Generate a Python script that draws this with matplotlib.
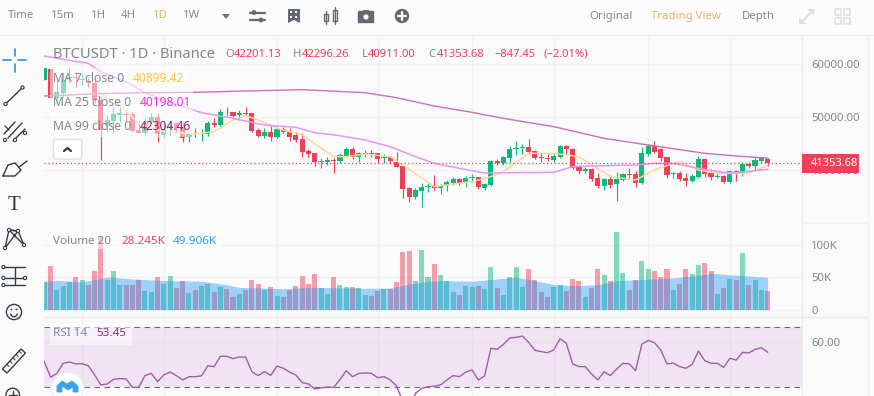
import matplotlib
matplotlib.use("Agg")
import matplotlib.pyplot as plt
from matplotlib.patches import Rectangle, Circle, FancyBboxPatch, Polygon

plt.rcParams['font.family'] = ['Noto Sans', 'DejaVu Sans']

# ---------- data ----------
opens = [57040,59120,53590,54530,57360,57670,56980,56860,56420,53270,48550,49370,50500,50630,50630,47610,46980,49180,50000,46670,
         48110,48870,47930,46230,47300,46860,46860,48990,48550,51070,50940,50440,50760,50760,47610,46480,47170,46230,47740,47420,
         46600,45850,43650,43210,41640,41640,41890,41830,42700,44030,42580,43080,43270,43210,42390,42450,41640,40820,36610,34910,
         36160,36860,37050,36610,37050,37610,38370,37860,38620,38740,36610,37230,41760,41450,42390,44090,44150,44400,43650,42450,
         42330,41950,42580,44530,44030,40690,39940,40190,38560,37110,38300,37360,38180,39370,39250,37680,43080,44650,43960,42450,
         39250,39500,38560,38050,38810,42080,39440,38810,38930,37860,39810,39310,41260,40880,41830,42201]
highs = [59370,59120,57040,58620,59250,58620,58300,57670,57040,53900,50440,51700,52010,51380,51070,49500,49810,50760,50760,49500,
         49500,49180,49180,47300,47930,47740,49370,49810,51510,52010,51070,51380,52010,50880,47930,47930,48550,48240,48240,47930,
         47300,47110,43960,43330,42260,42450,42260,43210,44470,44470,43520,43840,43840,43330,43080,42700,43520,41200,36920,36610,
         37550,37550,39120,37420,38180,38800,38620,38930,39310,38810,37680,41950,42080,42700,44660,45540,44910,45850,43840,43210,
         43080,43080,44840,44720,44150,41010,40570,40380,39560,38620,39120,39750,39560,40380,39940,44340,44970,45540,44150,42580,
         39750,39880,39440,39310,42700,42260,40310,39750,39120,40060,40060,41640,41640,42450,42580,42296]
lows = [57040,53710,52640,53900,56420,55790,56100,55790,52640,41950,47300,46980,49180,49180,47300,46980,46670,48870,45410,46350,
        46480,47300,45410,45410,46350,45600,46480,48110,47930,50250,50130,49500,50440,47300,46230,46040,45600,46040,46980,45600,
        45410,42580,42450,40820,40500,41010,39560,41320,42450,42080,41640,42450,42450,41320,41320,41200,40570,34720,34090,34590,
        33020,35850,36290,35540,36160,37230,37230,36790,37860,36420,36290,37050,41010,41010,41640,42890,43080,43080,42080,41640,
        41760,41510,42390,43080,40250,39310,39440,38050,36610,36290,36610,34280,37990,38490,36920,37420,42700,43210,41830,38620,
        38490,38050,37110,37800,38490,38680,38180,38490,37610,37550,38050,38930,40500,39940,41320,40911]
closes = [59370,53710,54840,57040,57670,57360,57170,56420,53270,47610,49500,50630,50760,50440,47480,47110,48870,50130,46790,47740,
          48370,47930,46160,46860,47170,47110,48870,48550,50940,50940,50250,50760,50630,47480,46480,47170,46230,47740,47300,46350,
          45720,43520,43080,41640,41830,41890,41700,42890,44030,42450,43210,43210,43140,42140,42580,41700,40690,36540,35030,36290,
          36790,37050,36610,37110,37800,38370,37680,38490,38810,36920,37420,41760,41450,42450,44030,44280,44340,43400,42390,42260,
          42140,42700,44590,44090,40500,39880,40190,38370,37110,38300,37300,38300,39250,39180,37680,43210,44590,43520,42390,39180,
          39500,38300,38050,38930,42140,39310,38810,39000,37860,39810,39310,41200,40880,41890,42260,41354]

ma7_idx = [9,12,15,19,24,27,30,32,34,37,41,46,48,51,55,57,62,68,71,73,77,81,85,90,94,97,100,101,104,107,112,115]
ma7_val = [54530,52330,48870,47300,46860,47300,49500,50320,49500,47930,46670,42580,42580,43080,42580,41010,36920,37860,38810,39750,
           43210,43210,42580,38810,38180,40060,41320,41640,40060,39440,39440,40899]
ma25_idx = [0,3,7,9,13,16,19,25,30,35,40,43,47,51,55,59,62,66,70,81,84,89,94,97,100,104,108,110,115]
ma25_val = [61570,60940,60190,58620,56730,54650,53270,50880,49810,48550,48110,47110,46540,45720,44470,42580,41320,40380,39500,39620,
            40690,40880,41010,41320,41320,40380,39620,39560,40198]
ma99_idx = [0,4,8,16,24,30,41,51,56,62,68,73,81,89,96,105,110,115]
ma99_val = [54030,54210,54470,54650,54720,54910,55220,54650,53710,52140,50940,49810,48240,46040,44780,43210,42710,42304]

volumes = [42.7,66.7,30.7,37,42.2,50,46.4,38.5,58.9,114,46.4,58.9,38.5,38.5,38.5,45.3,29.2,27.6,51,40.1,
           52.6,32.8,43.8,26,30.7,37,39,27.6,35.4,32.3,19.8,24.5,29.7,46.4,40.1,30.7,35.4,21.4,19.8,29.7,
           37,52.6,40.1,55.7,33.9,24.5,51,38.5,35.4,35.4,33.9,22.9,21.4,29.2,31.8,32.3,43.2,88.5,90.1,44.8,
           91.7,50,69.8,54.2,43.8,27.6,22.9,37,35.4,37,32.3,65.1,33.9,22.9,51,65.1,35.4,62,46.4,27.6,
           19.8,35.4,38.5,29.2,47.9,44.8,19.8,33.9,62,54.2,44.8,119.8,57.3,30.7,46.4,74.5,62,58.9,51,62,
           30.7,40.1,63.5,55.7,68.2,71.4,58.9,24.5,33.9,47.9,46.4,87,38.5,46.4,30.7,28.2]
vol_ma_idx = [0,2,6,8,10,14,19,25,29,31,38,43,51,55,58,61,63,68,71,75,78,81,85,88,91,95,100,105,106,110,115]
vol_ma_val = [43.8,45.3,42.7,46.4,50.5,47.4,44.8,43.8,38.5,34.4,32.3,34.4,32.8,33.3,39.6,43.8,44.8,43.8,46.4,50,44.8,38.5,37,38.5,44.8,46.4,49,54.2,56.3,53.1,49.9]

rsi = [47.1,36.7,39.3,46,46.9,45.6,45.8,44.4,38.2,31.6,32.2,35.3,35.8,35.6,30,30,37.8,39.3,33.8,38.2,
       40.2,37.8,34.9,37.1,37.1,37.6,44.4,43.8,50.7,50.7,49.1,50.2,50.2,40.4,37.8,40.4,38,44.2,42.7,40.2,
       38.2,33.1,32.2,28.9,29.6,30.2,30,35.1,41.1,37.1,39.3,39.6,39.3,36.4,37.1,34.9,30.9,20.4,13.8,26,
       29.3,30.4,30.7,31.6,34.9,37.8,37.1,40.2,41.6,34.9,37.6,56,55.3,58.7,62.9,63.3,64.2,60,54.7,53.8,
       53.1,54.9,62.4,59.3,45.6,43.8,43.8,38.9,34.9,40.4,37.8,42.2,46,45.6,41.1,58.7,61.3,59.8,54.9,45.6,
       46.2,43.8,42.7,45.3,54.2,47.8,46,46,43.3,49.3,48.2,53.3,52.9,55.3,56.4,53.45]

grid_idx = [6,19,37,53,68,81,96,109]
price_ticks = [40000,50000,60000]
price_tick_labels = ['40000.00','50000.00','60000.00']
vol_ticks = [0,50,100]
vol_tick_labels = ['0','50K','100K']
rsi_ticks = [60]
rsi_tick_labels = ['60.00']
last_price = 41353.68
rsi_upper, rsi_lower = 70, 30
periods = ['Time','15m','1H','4H','1D','1W']

# ---------- styles ----------
W, H = 874, 396
BG = '#fafafa'; GRID = '#f1f1f4'; SEP = '#ececef'; TXT = '#7f8794'
GREEN = '#0fb97c'; RED = '#ef4059'; GOLD = '#d9b466'

fig = plt.figure(figsize=(W/100, H/100), dpi=100, facecolor=BG)

def pane(top, bottom, left=44.3, right=802):
    return fig.add_axes([left/W, 1-bottom/H, (right-left)/W, (bottom-top)/H], facecolor=BG)

XLIM = (0, (802-44.3)/6.29)

def style(ax, ticks, labels, ylim):
    ax.set_xlim(*XLIM); ax.set_ylim(*ylim)
    ax.set_xticks(grid_idx); ax.set_xticklabels([])
    ax.set_yticks(ticks); ax.set_yticklabels(labels)
    ax.yaxis.tick_right()
    ax.tick_params(length=0, labelsize=8.2, labelcolor=TXT, pad=6.5)
    ax.grid(True, color=GRID, lw=0.9); ax.set_axisbelow(True)
    for s in ('top','left','bottom'):
        ax.spines[s].set_visible(False)
    ax.spines['right'].set_color(SEP)

n = len(closes)
xs = list(range(n))

# price pane
ax = pane(36, 223)
style(ax, price_ticks, price_tick_labels, (30065, 65346))
cols = [GREEN if c >= o else RED for o, c in zip(opens, closes)]
ax.vlines(xs, lows, highs, colors=cols, lw=0.8, zorder=3)
ax.bar(xs, [max(abs(c-o), 110) for o, c in zip(opens, closes)], bottom=[min(o, c) for o, c in zip(opens, closes)],
       width=0.82, color=cols, lw=0, zorder=3)
ax.plot(ma7_idx, ma7_val, color='#f8d999', lw=1.1, zorder=4)
ax.plot(ma25_idx, ma25_val, color='#e796f2', lw=1.1, zorder=4)
ax.plot(ma99_idx, ma99_val, color='#d070b4', lw=1.0, zorder=4)
ax.axhline(last_price, color=RED, lw=0.9, ls=(0, (1, 2)), zorder=5)

# volume pane
av = pane(223, 317)
style(av, vol_ticks, vol_tick_labels, (-11.5, 133.9))
av.bar(xs, volumes, width=0.8, color=cols, alpha=0.5, lw=0, zorder=3)
av.fill_between(vol_ma_idx, vol_ma_val, 0, color='#2196f3', alpha=0.42, lw=0, zorder=4)

# RSI pane
ar = pane(317, 396)
style(ar, rsi_ticks, rsi_tick_labels, (24.2, 76.9))
ar.axhspan(rsi_lower, rsi_upper, color='#9c27b0', alpha=0.1, lw=0, zorder=1)
for lv in (rsi_upper, rsi_lower):
    ar.axhline(lv, color='#6b6b78', lw=0.8, ls=(0, (5, 4)), zorder=2)
ar.plot(xs, rsi, color='#a35cab', lw=1.0, zorder=4)

# overlay in pixel space for the interface furniture
o = fig.add_axes([0, 0, 1, 1], facecolor='none')
o.set_xlim(0, W); o.set_ylim(H, 0); o.axis('off')

def T(x, y, s, c=TXT, fs=8.6, ha='left', **kw):
    o.text(x, y, s, color=c, fontsize=fs, ha=ha, va='center', **kw)

def L(xs_, ys_, c='#333a45', lw=1.0, **kw):
    o.plot(xs_, ys_, color=c, lw=lw, solid_capstyle='round', **kw)

def ring(x, y, r=1.6, c='#333a45', fc='white', lw=0.8):
    o.add_patch(Circle((x, y), r, fc=fc, ec=c, lw=lw, zorder=6))

# top bar
o.add_patch(Rectangle((0, 0), W, 35, fc='#fcfcfc', ec='none'))
L([0, W], [35, 35], c=SEP, lw=1)
L([868, 868], [35, H], c='#f2f2f4', lw=1)
L([802, 868], [223, 223], c=GRID, lw=1); L([44, 868], [317, 317], c=SEP, lw=1)
for x, s in zip([8, 51, 91, 121, 153, 183], periods):
    T(x, 16, s, c=GOLD if s == '1D' else TXT, fs=8.2)
o.add_patch(Polygon([[222, 14], [230, 14], [226, 19]], fc='#6d7480', ec='none'))
IC = '#616975'
L([250, 265], [12.5, 12.5], c=IC, lw=1.6); L([250, 265], [20, 20], c=IC, lw=1.6)
o.add_patch(Circle((254, 12.5), 2.4, fc=IC)); o.add_patch(Circle((261, 20), 2.4, fc=IC))
o.add_patch(Polygon([[288, 9], [300, 9], [300, 23], [294, 20], [288, 23]], fc=IC))
for xx, yy in [(291, 12), (296, 12), (291, 16.5), (296, 16.5)]:
    o.add_patch(Rectangle((xx-1, yy-1), 2.2, 2.2, fc='white'))
o.add_patch(Rectangle((323.5, 14), 4, 7, fc='none', ec=IC, lw=1)); L([325.5, 325.5], [11, 24], c=IC, lw=1)
o.add_patch(Rectangle((332.5, 10), 4.5, 11, fc='none', ec=IC, lw=1)); L([335, 335], [7, 24], c=IC, lw=1)
o.add_patch(FancyBboxPatch((359, 12), 14, 10, boxstyle='round,pad=0.5', fc=IC, ec=IC))
o.add_patch(Rectangle((363, 10), 6, 3, fc=IC)); o.add_patch(Circle((366, 17), 2.6, fc='white'))
o.add_patch(Circle((402, 16), 7.2, fc=IC))
L([398, 406], [16, 16], c='white', lw=1.6); L([402, 402], [12, 20], c='white', lw=1.6)
T(589, 16, 'Original', fs=8.2); T(651, 16, 'Trading View', c=GOLD, fs=8.2); T(742, 16, 'Depth', fs=8.2)
PI = '#dcdfe4'
L([802, 813], [22, 10], c=PI, lw=1.4)
o.add_patch(Polygon([[807, 9], [814, 9], [814, 15]], fc=PI)); o.add_patch(Polygon([[799, 17], [799, 24], [806, 24]], fc=PI))
for xx in (835, 843.5):
    for yy in (9, 17.5):
        o.add_patch(Rectangle((xx, yy), 6, 6, fc='none', ec=PI, lw=1.1))

# legend backdrops
for x0, y0, x1, y1 in [(50, 68, 186, 90), (50, 90, 193, 113), (50, 113, 193, 137), (50, 233, 222, 249), (50, 325, 132, 345)]:
    o.add_patch(Rectangle((x0, y0), x1-x0, y1-y0, fc='white', alpha=0.5, ec='none'))

# legends
T(53, 54, 'BTCUSDT · 1D · Binance', fs=10.6)
for x, s, c in [(225, 'O', TXT), (234, '42201.13', RED), (293, 'H', TXT), (302, '42296.26', RED), (362, 'L', TXT), (368, '40911.00', RED),
                (428, 'C', TXT), (437, '41353.68', RED), (494, '−847.45', RED), (544, '(−2.01%)', RED)]:
    T(x, 54.5, s, c=c, fs=8.1)
T(53, 78, 'MA 7 close 0', fs=8.8); T(133, 78, '40899.42', c='#f6c63f', fs=8.6)
T(53, 102, 'MA 25 close 0', fs=8.8); T(140, 102, '40198.01', c='#e62ee6', fs=8.6)
T(53, 126, 'MA 99 close 0', fs=8.8); T(140, 126, '42304.46', c='#b3126f', fs=8.6)
o.add_patch(FancyBboxPatch((54, 140), 27, 18.5, boxstyle='round,pad=0.6,rounding_size=2', fc='white', ec='#dfe1e6', lw=1))
L([64, 67.5, 71], [151, 148, 151], c='#333a45', lw=1.6)
T(53, 241, 'Volume 20', fs=8.4); T(121, 241, '28.245K', c=RED, fs=8.4); T(173, 241, '49.906K', c='#2f9cf0', fs=8.4)
T(53, 334, 'RSI 14', fs=8.4); T(96, 334, '53.45', c='#8e2a90', fs=8.4)

# price tag
o.add_patch(Rectangle((802, 154), 57, 19, fc=RED, ec='none', zorder=7))
L([802, 806], [163, 163], c=RED, lw=1)
T(811, 163.5, '41353.68', c='white', fs=8.0, fontweight='bold', zorder=8)

# left tool icons
B = '#3b8fd0'
for xa, ya, xb, yb in [(3, 60, 11, 60), (18, 60, 26, 60), (14.5, 49, 14.5, 56), (14.5, 64, 14.5, 72)]:
    L([xa, xb], [ya, yb], c=B, lw=1.2)
L([5.5, 22.5], [104, 87.5]); ring(5.5, 104); ring(22.5, 87.5)
L([4, 15], [134, 122]); L([8, 22], [138, 123]); L([13, 25], [141, 129]); L([5, 9], [126, 130], lw=0.9)
ring(5, 140); ring(15, 140); ring(25, 133)
L([3, 15, 21, 15, 8, 3], [176, 176, 170, 163, 165, 176]); L([19, 27], [167, 161])
o.text(14.5, 205, 'T', fontsize=15, color='#333a45', ha='center', va='center', family='Liberation Serif')
pts = [(5, 248), (9, 230), (18, 231), (24, 245)]
L([p[0] for p in pts], [p[1] for p in pts]); L([5, 18, 9, 24], [248, 231, 230, 245])
for p in pts:
    ring(p[0], p[1])
for yy in (267, 278, 285):
    L([5, 25], [yy, yy])
    ring(3.5, yy)
ring(25, 278); L([14.5, 14.5], [268, 284])
o.add_patch(Circle((14, 312), 7.6, fc='none', ec='#333a45', lw=1))
L([10.5, 12, 14, 16, 17.5], [314, 316, 317, 316, 314])
o.add_patch(Circle((11.5, 309.5), 0.9, fc='#333a45')); o.add_patch(Circle((16.5, 309.5), 0.9, fc='#333a45'))
o.add_patch(Polygon([[2.5, 369], [21, 349], [25.5, 353], [7, 373]], fc='none', ec='#333a45', lw=1))
for k in range(5):
    L([7+k*3.1, 9+k*3.1], [364.5-k*3.3, 366.5-k*3.3], lw=0.7)
o.add_patch(Circle((12.7, 395), 6.8, fc='none', ec='#333a45', lw=1))
L([9, 16.5], [395, 395]); L([12.7, 12.7], [391, 396])

# floating badge
o.add_patch(Circle((67.7, 388), 16, fc='white', ec='#eeeeee', lw=0.8, zorder=9))
o.add_patch(Polygon([[57, 392], [57, 386], [62, 381], [67, 384], [72, 381], [78, 386], [78, 392], [73, 392], [73, 387], [68, 390],
                     [62, 386], [62, 392]], fc='#3ba4e8', ec='#3ba4e8', lw=0.6, zorder=10))

fig.savefig('out.png', dpi=100, facecolor=fig.get_facecolor())
